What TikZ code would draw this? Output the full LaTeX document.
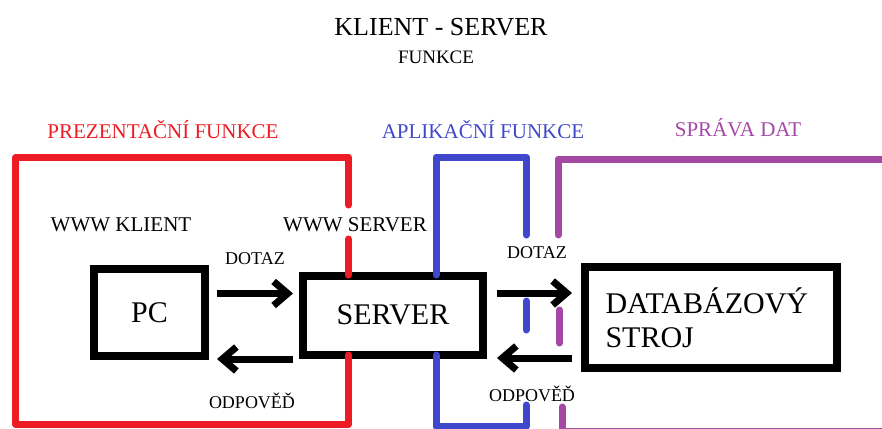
\documentclass[tikz,border=0pt]{standalone}
\usepackage{fontspec}
\setmainfont{Liberation Serif}
\usetikzlibrary{positioning,arrows.meta}

\definecolor{prezred}{HTML}{ED1C24}
\definecolor{aplblue}{HTML}{3F48CC}
\definecolor{datpurple}{HTML}{A349A4}

\newcommand{\fs}[1]{\fontsize{#1}{#1}\selectfont}

\begin{document}
\begin{tikzpicture}
[x=1pt,y=-1pt,
 box/.style={rectangle,draw,line width=8pt,inner sep=0pt,font=\fs{30}},
 arr/.style={line width=7pt,-{Straight Barb[length=14pt,width=24pt]}},
 lbl/.style={inner sep=0pt,font=\fs{21}},
 small/.style={inner sep=0pt,font=\fs{18}},
 frame/.style={line width=7pt,line cap=round,line join=round}]
\useasboundingbox (0,0) rectangle (882,428);
\clip (0,0) rectangle (882,428);
% headings
\node (title) at (441,27) {\fs{26}KLIENT - SERVER};
\node (subtitle) at (436,57) {\fs{19}FUNKCE};
\node[lbl,text=prezred] (prez) at (163,130) {PREZENTAČNÍ FUNKCE};
\node[lbl,text=aplblue] (apl) at (483,130) {APLIKAČNÍ FUNKCE};
\node[lbl,text=datpurple] (dat) at (738,128) {SPRÁVA DAT};
% boxes
\node[box,minimum width=111pt,minimum height=87pt] (pc) at (149.5,312.5) {PC};
\node[box,minimum width=180pt,minimum height=79pt] (srv) [right=90pt of pc,yshift=-2.5pt] {SERVER};
\node[box,minimum width=252pt,minimum height=101pt,text width=211pt,align=left,
  font=\fontsize{30}{34}\selectfont] (db) [right=94pt of srv,yshift=-2.5pt] {DATABÁZOVÝ\\STROJ};
\node[lbl] (wwwk) at (121,225) {WWW KLIENT};
\node[lbl] (wwws) at (355,225) {WWW SERVER};
% requests and answers
\node[small] (dotaz1) at (255,259) {DOTAZ};
\node[small] (odp1) at (252,401) {ODPOVĚĎ};
\node[small] (dotaz2) at (537,253) {DOTAZ};
\node[small] (odp2) at (532,394) {ODPOVĚĎ};
\draw[arr,shorten <=8pt,shorten >=6pt] ([yshift=19pt]pc.east) -- ([yshift=19pt]pc.east -| srv.west);
\draw[arr,shorten <=6pt,shorten >=8pt] ([yshift=-44pt]srv.west) -- ([yshift=-44pt]srv.west -| pc.east);
\draw[arr,shorten <=10pt,shorten >=9pt] ([yshift=22pt]srv.east) -- ([yshift=22pt]srv.east -| db.west);
\draw[arr,shorten <=9pt,shorten >=10pt] ([yshift=-43pt]srv.east -| db.west) -- ([yshift=-43pt]srv.east);
% red part
\draw[frame,prezred] (348.5,205) -- (348.5,157.5) -- (15.5,157.5) -- (15.5,424) -- (348.5,424) -- (348.5,355);
\draw[frame,prezred] (348.5,239) -- (348.5,275);
% blue part
\draw[frame,aplblue] (436,275) -- (436,157) -- (526,157) -- (526,235);
\draw[frame,aplblue] (526,301) -- (526,330);
\draw[frame,aplblue] (436,355) -- (436,426) -- (526,426) -- (526,405);
% purple part
\draw[frame,datpurple] (558,235) -- (558,159) -- (890,159);
\draw[frame,datpurple] (559.5,310) -- (559.5,343);
\draw[frame,datpurple] (562,407) -- (562,431) -- (890,431);
\end{tikzpicture}
\end{document}
